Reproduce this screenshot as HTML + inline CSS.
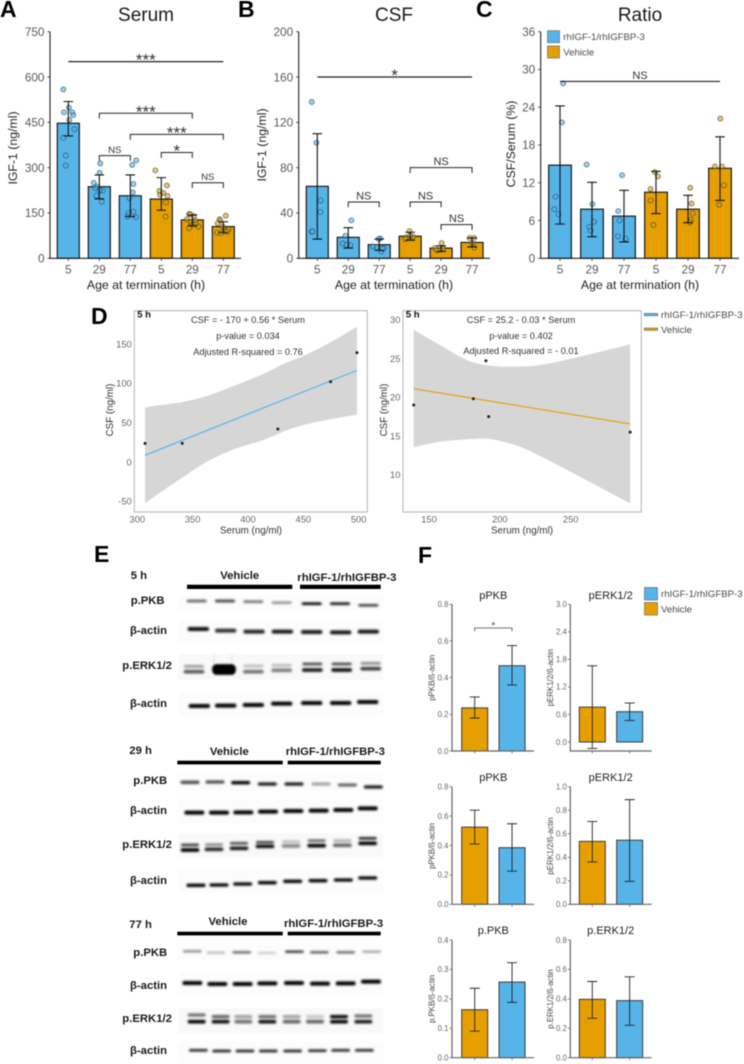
<!DOCTYPE html>
<html lang="en">
<head>
<meta charset="utf-8">
<title>IGF-1 figure</title>
<style>
html,body{margin:0;padding:0;background:#fff;}
#figure{display:block;width:744px;height:1064px;font-family:"Liberation Sans",sans-serif;filter:blur(.4px);}
.letter{font-size:23px;font-weight:700;fill:#000;}
.title{font-size:19px;fill:#1a1a1a;text-anchor:middle;}
.axt{font-size:12.3px;fill:#222;text-anchor:middle;}
.leg{font-size:9.6px;fill:#4a4a4a;}
.eq{font-size:9.2px;fill:#333;text-anchor:middle;}
.dax{font-size:9.8px;fill:#333;text-anchor:middle;}
.blot{font-size:11.3px;font-weight:700;fill:#1a1a1a;}
.ftitle{font-size:11px;fill:#222;text-anchor:middle;}
.fy{font-size:7.8px;fill:#444;text-anchor:middle;}
</style>
</head>
<body>
<svg id="figure" xmlns="http://www.w3.org/2000/svg" width="744" height="1064" viewBox="0 0 744 1064">
<defs><filter id="bandBlur" x="-20%" y="-150%" width="140%" height="400%"><feGaussianBlur stdDeviation="1"/></filter></defs>
<rect x="0" y="0" width="744" height="1064" fill="#fff"/>

<text class="letter" x="0" y="17">A</text>
<text class="letter" x="238" y="17">B</text>
<text class="letter" x="476" y="17">C</text>
<text class="letter" x="91" y="324">D</text>
<text class="letter" x="94" y="562">E</text>
<text class="letter" x="418" y="563">F</text>

<text class="title" x="146" y="21">Serum</text>
<text class="title" x="394" y="21">CSF</text>
<text class="title" x="640" y="21">Ratio</text>
<text class="axt" x="146" y="289">Age at termination (h)</text>
<text class="axt" x="394" y="289">Age at termination (h)</text>
<text class="axt" x="640" y="289">Age at termination (h)</text>
<text class="axt" transform="translate(17 148) rotate(-90)">IGF-1 (ng/ml)</text>
<text class="axt" transform="translate(266 145) rotate(-90)">IGF-1 (ng/ml)</text>
<text class="axt" transform="translate(515 144) rotate(-90)">CSF/Serum (%)</text>

<g>
<rect x="547.5" y="30.7" width="12" height="12" fill="#56B4E9" stroke="#777" stroke-width=".8"/>
<rect x="547.5" y="46" width="12" height="12" fill="#E69F00" stroke="#777" stroke-width=".8"/>
<text class="leg" x="563.3" y="40">rhIGF-1/rhIGFBP-3</text>
<text class="leg" x="563.3" y="55.5">Vehicle</text>
</g>

<text class="eq" x="248" y="323">CSF = - 170 + 0.56 * Serum</text>
<text class="eq" x="248" y="339">p-value = 0.034</text>
<text class="eq" x="248" y="355">Adjusted R-squared = 0.76</text>
<text class="dax" x="251" y="533.5">Serum (ng/ml)</text>
<text class="dax" transform="translate(113 410) rotate(-90)">CSF (ng/ml)</text>

<text class="eq" x="521" y="323">CSF = 25.2 - 0.03 * Serum</text>
<text class="eq" x="521" y="339">p-value = 0.402</text>
<text class="eq" x="521" y="354">Adjusted R-squared = - 0.01</text>
<text class="dax" x="522" y="533.5">Serum (ng/ml)</text>
<text class="dax" transform="translate(387 410) rotate(-90)">CSF (ng/ml)</text>

<g>
<rect x="644.3" y="313.4" width="13.4" height="2.4" fill="#56B4E9" stroke="#555" stroke-width=".5"/>
<rect x="644.3" y="328" width="13.4" height="2.4" fill="#E69F00" stroke="#555" stroke-width=".5"/>
<text class="leg" x="661" y="318">rhIGF-1/rhIGFBP-3</text>
<text class="leg" x="661" y="333">Vehicle</text>
</g>

<g id="blotLabels">
<text class="blot" x="130.7" y="579">5 h</text>
<text class="blot" x="239.7" y="579" text-anchor="middle">Vehicle</text>
<text class="blot" x="297.3" y="581">rhIGF-1/rhIGFBP-3</text>
<text class="blot" x="130.7" y="604">p.PKB</text>
<text class="blot" x="130" y="634">β-actin</text>
<text class="blot" x="122.3" y="669">p.ERK1/2</text>
<text class="blot" x="130" y="707">β-actin</text>

<text class="blot" x="129.3" y="754">29 h</text>
<text class="blot" x="229.3" y="755" text-anchor="middle">Vehicle</text>
<text class="blot" x="285.7" y="755">rhIGF-1/rhIGFBP-3</text>
<text class="blot" x="133.3" y="784">p.PKB</text>
<text class="blot" x="130" y="814">β-actin</text>
<text class="blot" x="122.3" y="848">p.ERK1/2</text>
<text class="blot" x="130" y="884">β-actin</text>

<text class="blot" x="129.3" y="928">77 h</text>
<text class="blot" x="228" y="925" text-anchor="middle">Vehicle</text>
<text class="blot" x="284" y="927">rhIGF-1/rhIGFBP-3</text>
<text class="blot" x="133.3" y="956">p.PKB</text>
<text class="blot" x="130" y="989">β-actin</text>
<text class="blot" x="122.3" y="1022">p.ERK1/2</text>
<text class="blot" x="130" y="1054">β-actin</text>
</g>

<text class="ftitle" x="493.3" y="599">pPKB</text>
<text class="ftitle" x="610.7" y="599">pERK1/2</text>
<text class="ftitle" x="493.3" y="781">pPKB</text>
<text class="ftitle" x="610.7" y="781">pERK1/2</text>
<text class="ftitle" x="493.3" y="934">p.PKB</text>
<text class="ftitle" x="610.7" y="934">p.ERK1/2</text>
<text class="fy" transform="translate(434.5 677.7) rotate(-90)">pPKB/ß-actin</text>
<text class="fy" transform="translate(553 677.7) rotate(-90)">pERK1/2/ß-actin</text>
<text class="fy" transform="translate(434.5 846) rotate(-90)">pPKB/ß-actin</text>
<text class="fy" transform="translate(553 846) rotate(-90)">pERK1/2/ß-actin</text>
<text class="fy" transform="translate(434.5 999) rotate(-90)">p.PKB/ß-actin</text>
<text class="fy" transform="translate(553 999) rotate(-90)">p.ERK1/2/ß-actin</text>

<g>
<rect x="644.5" y="587.5" width="13" height="12.5" fill="#56B4E9" stroke="#777" stroke-width=".8"/>
<rect x="644.5" y="602.5" width="13" height="12.5" fill="#E69F00" stroke="#777" stroke-width=".8"/>
<text class="leg" x="661" y="597">rhIGF-1/rhIGFBP-3</text>
<text class="leg" x="661" y="612.5">Vehicle</text>
</g>
</svg>

<script>
// ---------- Panel A: serum ----------
const ageLabels = ['5', '29', '77', '5', '29', '77'];
const groupTreatment = ['drug', 'drug', 'drug', 'vehicle', 'vehicle', 'vehicle'];
const serumTicks = [0, 150, 300, 450, 600, 750];
const serumMeans = [447, 237, 207, 196, 127, 105];
const serumLow = [405, 197, 138, 159, 108, 85];
const serumHigh = [519, 276, 276, 267, 143, 121];
const serumPoints = [
  [559, 483, 499, 483, 474, 458, 427, 399, 340, 307],
  [314, 283, 250, 237, 232, 224, 207, 187, 225],
  [324, 309, 246, 218, 199, 154, 149, 136, 138],
  [291, 241, 223, 217, 210, 206, 185, 138],
  [147, 146, 140, 130, 125, 120, 113, 110, 105, 100],
  [141, 129, 125, 116, 105, 96, 90, 85, 83, 88]
];
const serumJitter = [
  [-.16, -.14, .02, .13, .16, .03, .2, -.16, -.08, -.08],
  [.03, .01, -.18, -.06, -.13, .12, -.09, .08, .02],
  [.19, .06, .1, .08, -.03, .1, -.06, .18, -.09],
  [-.19, .18, -.06, .06, -.04, .2, .15, .14],
  [-.1, -.07, .05, -.17, .1, -.05, .12, -.02, .2, -.1],
  [.08, -.12, -.1, -.18, -.02, .17, .05, -.2, -.08, .12]
];
const serumSigFrom = [0, 1, 2, 1, 3, 4];
const serumSigTo = [5, 4, 5, 2, 4, 5];
const serumSigValue = [651, 480, 410, 340, 350, 250];
const serumSigLabel = ['***', '***', '***', 'NS', '*', 'NS'];

// ---------- Panel B: CSF ----------
const csfTicks = [0, 40, 80, 120, 160, 200];
const csfMeans = [63.5, 18.5, 12, 19.5, 9, 14];
const csfLow = [17, 9, 7, 16, 6, 10];
const csfHigh = [110, 27, 17, 23, 11, 18];
const csfPoints = [
  [138, 102, 51, 41, 23.5, 23.8],
  [33.5, 20, 13, 11.5, 12],
  [17.5, 17, 10, 9, 6, 10.5, 8.5],
  [24, 19, 18.5, 20, 17],
  [13.5, 9, 7.5, 7, 8.5],
  [18, 18, 13, 9.5]
];
const csfJitter = [
  [-.18, -.03, .11, .1, -.18, -.16],
  [.1, -.09, -.18, .07, -.05],
  [.03, -.02, -.09, .15, .07, -.2, .1],
  [-.02, .1, -.13, 0, -.16],
  [.02, -.2, -.03, -.14, .07],
  [-.08, .07, 0, .07]
];
const csfSigFrom = [0, 3, 1, 3, 4];
const csfSigTo = [5, 5, 2, 4, 5];
const csfSigValue = [160, 80, 49.7, 49.7, 29.7];
const csfSigLabel = ['*', 'NS', 'NS', 'NS', 'NS'];

// ---------- Panel C: ratio ----------
const ratioTicks = [0, 6, 12, 18, 24, 30, 36];
const ratioMeans = [14.8, 7.8, 6.7, 10.5, 7.8, 14.3];
const ratioLow = [5.45, 3.44, 2.6, 7.1, 5.66, 9.2];
const ratioHigh = [24.2, 12.07, 10.8, 13.8, 10, 19.3];
const ratioPoints = [
  [27.8, 21.6, 9.8, 7.8, 7],
  [14.9, 8.6, 5.8, 5, 4.4],
  [13.2, 7.5, 6, 3.5, 3.1],
  [13.7, 13, 11, 9.2, 5.3],
  [11.2, 8.7, 7.1, 6.1, 5.7],
  [22.2, 14.6, 14.6, 11.6, 8.5]
];
const ratioJitter = [
  [.1, .06, -.14, -.18, -.05],
  [-.17, .01, .06, -.08, -.04],
  [-.06, -.18, -.14, -.19, .05],
  [-.03, .06, -.17, -.17, -.08],
  [.07, .11, .15, .09, .06],
  [.01, -.16, .06, .12, -.03]
];
const ratioSigFrom = [0];
const ratioSigTo = [5];
const ratioSigValue = [28.1];
const ratioSigLabel = ['NS'];

// ---------- Panel D: regressions ----------
const drugSerum = [307, 340.6, 427, 474.7, 498.5];
const drugCsf = [23.7, 23.7, 42, 102, 139];
const drugFitX = [307, 498.5];
const drugFitY = [8.5, 116.5];
const drugBandX = [307, 324, 341, 363, 387, 414, 432, 450, 474, 498.5];
const drugBandUpper = [69.5, 72.9, 76.3, 83.9, 96.6, 111.9, 124.6, 134.7, 151.7, 172];
const drugBandLower = [-52.5, -35.6, -19.5, .4, 16.1, 28, 38.6, 47, 54.2, 60.2];
const drugXTicks = [300, 350, 400, 450, 500];
const drugYTicks = [-50, 0, 50, 100, 150];

const vehSerum = [139.2, 181.3, 190.2, 192.1, 292];
const vehCsf = [19, 19.8, 24.7, 17.5, 15.5];
const vehFitX = [139.2, 292];
const vehFitY = [21.1, 16.55];
const vehBandX = [139.2, 157.8, 176.6, 193, 214.2, 233, 256.6, 292];
const vehBandUpper = [28.67, 26.73, 24.8, 24.06, 23.94, 24.28, 25.23, 26.82];
const vehBandLower = [13.53, 14.26, 14.56, 14.6, 13.61, 11.98, 9.74, 6.3];
const vehXTicks = [150, 200, 250];
const vehYTicks = [10, 15, 20, 25, 30];

// ---------- Panel F: densitometry ----------
const densTreatment = ['vehicle', 'drug'];
const ppkb5Ticks = [0, .2, .4, .6, .8];
const ppkb5Means = [.235, .465];
const ppkb5Low = [.18, .36];
const ppkb5High = [.295, .575];
const perk5Ticks = [0, .6, 1.2, 1.8, 2.4, 3];
const perk5Means = [.76, .66];
const perk5Low = [-.14, .47];
const perk5High = [1.66, .85];
const ppkb29Ticks = [0, .2, .4, .6, .8];
const ppkb29Means = [.525, .385];
const ppkb29Low = [.41, .225];
const ppkb29High = [.64, .548];
const perk29Ticks = [0, .2, .4, .6, .8, 1];
const perk29Means = [.535, .545];
const perk29Low = [.36, .195];
const perk29High = [.705, .89];
const ppkb77Ticks = [0, .1, .2, .3, .4];
const ppkb77Means = [.163, .257];
const ppkb77Low = [.09, .188];
const ppkb77High = [.236, .323];
const perk77Ticks = [0, .2, .4, .6, .8];
const perk77Means = [.397, .388];
const perk77Low = [.268, .22];
const perk77High = [.518, .55];

const FILL = {drug: '#56B4E9', vehicle: '#E69F00'};
const svg = document.getElementById('figure');
const NS = 'http://www.w3.org/2000/svg';

function mk(tag, attrs, parent) {
  const el = document.createElementNS(NS, tag);
  for (const k in attrs) el.setAttribute(k, attrs[k]);
  (parent || svg).appendChild(el);
  return el;
}

function drawBars(name, L, labels, treatment, ticks, means, low, high, points, jitter, sigFrom, sigTo, sigValue, sigLabel) {
  const g = mk('g', {}, svg);
  
  
  const yS = v => L.bottom - (v - L.dMin) / (L.dMax - L.dMin) * (L.bottom - L.top);
  const xS = i => L.cx0 + i * L.step;
  const axisBottom = L.axisBottom === undefined ? L.bottom : L.axisBottom;

  means.forEach((m, i) => {
    const bar = mk('rect', {x: xS(i) - L.barW / 2, y: yS(m), width: L.barW, height: yS(0) - yS(m), fill: FILL[treatment[i]], stroke: L.barStroke, 'stroke-width': L.barSW}, g);
    
    
  });

  if (points) {
    points.forEach((list, i) => {
      list.forEach((v, j) => {
        const p = mk('circle', {cx: xS(i) + jitter[i][j] * L.step, cy: yS(v), r: 2.5, fill: FILL[treatment[i]], 'fill-opacity': .6, stroke: '#1c3a4e', 'stroke-opacity': .65, 'stroke-width': .8}, g);
        
        
      });
    });
  }

  means.forEach((m, i) => {
    const e = mk('path', {d: 'M' + (xS(i) - L.cap) + ' ' + yS(high[i]) + 'H' + (xS(i) + L.cap) + 'M' + xS(i) + ' ' + yS(high[i]) + 'V' + yS(low[i]) + 'M' + (xS(i) - L.cap) + ' ' + yS(low[i]) + 'H' + (xS(i) + L.cap), fill: 'none', stroke: L.errStroke, 'stroke-width': L.errSW}, g);
    
    
  });

  const axis = mk('path', {d: 'M' + L.left + ' ' + L.top + 'V' + axisBottom + 'H' + L.right, fill: 'none', stroke: L.axisStroke, 'stroke-width': L.axisSW}, g);
  
  

  ticks.forEach(t => {
    const tk = mk('line', {x1: L.left - 2.5, x2: L.left, y1: yS(t), y2: yS(t), stroke: L.axisStroke, 'stroke-width': .8}, g);
    
    
    const tx = mk('text', {x: L.left - L.labelGap, y: yS(t) + L.tickSize * .36, 'text-anchor': 'end', 'font-size': L.tickSize, fill: L.tickFill}, g);
    tx.textContent = L.decimals === undefined ? String(t) : t.toFixed(L.decimals);
    
    
  });

  means.forEach((m, i) => {
    const tk = mk('line', {x1: xS(i), x2: xS(i), y1: axisBottom, y2: axisBottom + 2.5, stroke: L.axisStroke, 'stroke-width': .8}, g);
    
    
    if (labels) {
      const tx = mk('text', {x: xS(i), y: axisBottom + 15, 'text-anchor': 'middle', 'font-size': L.tickSize, fill: L.tickFill}, g);
      tx.textContent = labels[i];
      
      
    }
  });

  if (sigFrom) {
    sigFrom.forEach((f, k) => {
      const y = yS(sigValue[k]);
      const flat = sigTo[k] - f === 5;
      const drop = flat ? 0 : 5.3;
      const x1 = xS(f), x2 = xS(sigTo[k]);
      const br = mk('path', {d: 'M' + x1 + ' ' + (y + drop) + 'V' + y + 'H' + x2 + 'V' + (y + drop), fill: 'none', stroke: '#222', 'stroke-width': flat ? 1.2 : 1}, g);
      
      
      const isNs = sigLabel[k] === 'NS';
      const lb = mk('text', {x: (x1 + x2) / 2, y: isNs ? y - 2.6 : y + 4, 'text-anchor': 'middle', 'font-size': isNs ? L.nsSize : 17, fill: '#333'}, g);
      lb.textContent = sigLabel[k];
      
      
    });
  }
}

const mainStyle = {top: 31.7, bottom: 258.3, dMin: 0, barW: 22, cap: 4.8, barStroke: '#1a1a1a', barSW: 1.2, errStroke: '#111', errSW: 1.1, axisStroke: '#222', axisSW: 1.1, tickSize: 11.8, tickFill: '#5a5a5a', labelGap: 5.5};

drawBars('serum', Object.assign({}, mainStyle, {left: 50, right: 241, dMax: 750, cx0: 68.3, step: 31, nsSize: 9.6}),
  ageLabels, groupTreatment, serumTicks, serumMeans, serumLow, serumHigh, serumPoints, serumJitter, serumSigFrom, serumSigTo, serumSigValue, serumSigLabel);
drawBars('csf', Object.assign({}, mainStyle, {left: 298.7, right: 490, dMax: 200, cx0: 317.3, step: 30.95, nsSize: 11}),
  ageLabels, groupTreatment, csfTicks, csfMeans, csfLow, csfHigh, csfPoints, csfJitter, csfSigFrom, csfSigTo, csfSigValue, csfSigLabel);
drawBars('ratio', Object.assign({}, mainStyle, {left: 540.7, right: 739, dMax: 36, cx0: 560, step: 32, barW: 22.7, nsSize: 11, labelGap: 5.5}),
  ageLabels, groupTreatment, ratioTicks, ratioMeans, ratioLow, ratioHigh, ratioPoints, ratioJitter, ratioSigFrom, ratioSigTo, ratioSigValue, ratioSigLabel);

const fStyle = {dMin: 0, step: 37.35, barW: 26, cap: 5, barStroke: '#3a3a3a', barSW: 1, errStroke: '#222', errSW: .9, axisStroke: '#666', axisSW: 1.2, tickSize: 7.8, tickFill: '#666', labelGap: 3.5, nsSize: 8};
const colA = {left: 452, right: 534, cx0: 474.7};
const colB = {left: 570.3, right: 651.7, cx0: 592.3};
const row1 = {top: 604.3, bottom: 751};
const row2 = {top: 786.7, bottom: 904.3};
const row3 = {top: 940, bottom: 1057.7};

drawBars('ppkb-5h', Object.assign({}, fStyle, colA, row1, {dMax: .8, decimals: 1}), null, densTreatment, ppkb5Ticks, ppkb5Means, ppkb5Low, ppkb5High);
drawBars('perk-5h', Object.assign({}, fStyle, colB, {top: 604.3, bottom: 742, axisBottom: 751, dMax: 3, decimals: 1}), null, densTreatment, perk5Ticks, perk5Means, perk5Low, perk5High);
drawBars('ppkb-29h', Object.assign({}, fStyle, colA, row2, {dMax: .8, decimals: 1}), null, densTreatment, ppkb29Ticks, ppkb29Means, ppkb29Low, ppkb29High);
drawBars('perk-29h', Object.assign({}, fStyle, colB, row2, {dMax: 1, decimals: 1}), null, densTreatment, perk29Ticks, perk29Means, perk29Low, perk29High);
drawBars('ppkb-77h', Object.assign({}, fStyle, colA, row3, {dMax: .4, decimals: 1}), null, densTreatment, ppkb77Ticks, ppkb77Means, ppkb77Low, ppkb77High);
drawBars('perk-77h', Object.assign({}, fStyle, colB, row3, {dMax: .8, decimals: 1}), null, densTreatment, perk77Ticks, perk77Means, perk77Low, perk77High);

// significance bracket on first pPKB chart
const fBracket = mk('path', {d: 'M474.7 631.3V628H512V631.3', fill: 'none', stroke: '#444', 'stroke-width': .8});


const fStar = mk('text', {x: 493.3, y: 628.5, 'text-anchor': 'middle', 'font-size': 9, fill: '#333'});
fStar.textContent = '*';



// smooth path segments through a list of [x, y] screen points (Catmull-Rom)
function smoothThrough(pts) {
  let d = '';
  for (let i = 0; i < pts.length - 1; i++) {
    const p0 = pts[Math.max(0, i - 1)], p1 = pts[i], p2 = pts[i + 1], p3 = pts[Math.min(pts.length - 1, i + 2)];
    d += 'C' + (p1[0] + (p2[0] - p0[0]) / 6) + ' ' + (p1[1] + (p2[1] - p0[1]) / 6) + ' ' + (p2[0] - (p3[0] - p1[0]) / 6) + ' ' + (p2[1] - (p3[1] - p1[1]) / 6) + ' ' + p2[0] + ' ' + p2[1];
  }
  return d;
}

function drawRegression(name, B, color, xs, ys, fitX, fitY, bandX, bandU, bandL, xTicks, yTicks) {
  const g = mk('g', {}, svg);
  
  
  const xS = v => B.x0 + (v - B.xv0) * B.xk;
  const yS = v => B.y0 - (v - B.yv0) * B.yk;
  const frame = mk('rect', {x: B.left, y: B.top, width: B.right - B.left, height: B.bottom - B.top, fill: '#fff', stroke: '#b3b3b3', 'stroke-width': 1}, g);
  
  
  const upperPts = bandX.map((x, i) => [xS(x), yS(bandU[i])]);
  const lowerPts = bandX.map((x, i) => [xS(x), yS(bandL[i])]).reverse();
  const d = 'M' + upperPts[0][0] + ' ' + upperPts[0][1] + smoothThrough(upperPts) + 'L' + lowerPts[0][0] + ' ' + lowerPts[0][1] + smoothThrough(lowerPts) + 'Z';
  const band = mk('path', {d: d, fill: '#d6d6d6'}, g);
  
  
  const fit = mk('line', {x1: xS(fitX[0]), y1: yS(fitY[0]), x2: xS(fitX[1]), y2: yS(fitY[1]), stroke: color, 'stroke-width': 1.1}, g);
  
  
  xs.forEach((x, i) => {
    const p = mk('circle', {cx: xS(x), cy: yS(ys[i]), r: 1.5, fill: '#222'}, g);
    
    
  });
  xTicks.forEach(t => {
    const tx = mk('text', {x: xS(t), y: 522.5, 'text-anchor': 'middle', 'font-size': 9.3, fill: '#666'}, g);
    tx.textContent = String(t);
    
    
  });
  yTicks.forEach(t => {
    const tx = mk('text', {x: B.left - 2.6, y: yS(t) + 3.3, 'text-anchor': 'end', 'font-size': 9.3, fill: '#666'}, g);
    tx.textContent = String(t);
    
    
  });
  const h5 = mk('text', {x: B.left + 2.8, y: 317.5, 'font-size': 9.6, 'font-weight': 700, fill: '#111'}, g);
  h5.textContent = '5 h';
  
  
}

drawRegression('treatment', {left: 134.3, right: 367.3, top: 310.7, bottom: 512, x0: 137.3, xv0: 300, xk: 1.1067, y0: 462, yv0: 0, yk: .7867}, '#56B4E9',
  drugSerum, drugCsf, drugFitX, drugFitY, drugBandX, drugBandUpper, drugBandLower, drugXTicks, drugYTicks);
drawRegression('vehicle', {left: 403, right: 641.3, top: 310.7, bottom: 512, x0: 429, xv0: 150, xk: 1.4167, y0: 319.7, yv0: 30, yk: 7.75}, '#E69F00',
  vehSerum, vehCsf, vehFitX, vehFitY, vehBandX, vehBandUpper, vehBandLower, vehXTicks, vehYTicks);

// move equations, regression titles above the frames
svg.querySelectorAll('.eq').forEach(t => svg.appendChild(t));

// ---------- Panel E: western blots (lane densities) ----------
const blotSections = [
  {ox: 90, oy: 550, rows: [
    {bg: [265, 135, 880, 180], x: [320, 405, 490, 575, 665, 750, 835], y: [153, 153, 155, 158, 161, 161, 166], d: [.6, .75, .55, .42, 1, .92, .75], w: 60, t: 8},
    {bg: [265, 210, 880, 280], x: [325, 407, 492, 577, 665, 752, 835], y: [237, 242, 245, 245, 246, 247, 245], d: [.95, .8, .85, .9, .9, .9, .9], w: 64, t: 12},
    {bg: [265, 312, 880, 390], x: [312, 402, 490, 575, 667, 755, 842], y: [349, 350, 348, 346, 342, 342, 340], d: [.4, 1, .25, .25, .7, .7, .45], w: 60, t: 8},
    {bg: [265, 312, 880, 390], x: [312, 402, 490, 575, 667, 755, 842], y: [365, 367, 365, 361, 360, 360, 356], d: [.65, 1, .55, .5, .9, .95, .75], w: 62, t: 11},
    {x: [402], y: [358], d: [1], w: 72, t: 30},
    {x: [372, 426], y: [330, 330], d: [.18, .18], w: 3, t: 40},
    {bg: [265, 425, 880, 500], x: [328, 407, 490, 575, 665, 752, 833], y: [468, 467, 465, 461, 459, 459, 456], d: [1, 1, 1, 1, 1, 1, 1], w: 64, t: 12}
  ]},
  {ox: 90, oy: 730, rows: [
    {bg: [265, 130, 880, 185], x: [300, 375, 452, 532, 612, 693, 772, 850], y: [157, 156, 158, 162, 162, 162, 165, 171], d: [.7, .7, 1, .9, .9, .35, .6, .9], w: 57, t: 10},
    {bg: [265, 210, 880, 280], x: [313, 387, 460, 534, 610, 686, 760, 833], y: [248, 248, 247, 245, 243, 242, 240, 235], d: [1, 1, 1, 1, 1, 1, 1, 1], w: 60, t: 12},
    {bg: [265, 310, 880, 380], x: [300, 372, 447, 525, 603, 680, 757, 833], y: [345, 344, 340, 337, 335, 332, 332, 325], d: [.75, .45, .7, .75, .25, .6, .3, .85], w: 54, t: 8},
    {bg: [265, 310, 880, 380], x: [300, 372, 447, 525, 603, 680, 757, 833], y: [360, 358, 355, 349, 348, 347, 346, 340], d: [1, .85, .9, .95, .45, 1, .6, 1], w: 56, t: 11},
    {bg: [265, 420, 880, 490], x: [318, 387, 458, 532, 608, 684, 760, 833], y: [466, 465, 462, 458, 454, 452, 450, 444], d: [1, 1, 1, 1, 1, 1, 1, 1], w: 57, t: 10}
  ]},
  {ox: 90, oy: 900, rows: [
    {bg: [262, 135, 880, 180], x: [307, 378, 455, 530, 613, 688, 767, 845], y: [154, 158, 157, 159, 155, 157, 157, 155], d: [.45, .25, .6, .2, .8, .65, .6, .35], w: 56, t: 7},
    {bg: [265, 215, 880, 285], x: [307, 382, 458, 532, 612, 690, 767, 843], y: [249, 252, 252, 250, 249, 251, 250, 245], d: [1, 1, 1, 1, 1, 1, 1, 1], w: 60, t: 12},
    {bg: [265, 325, 880, 400], x: [320, 392, 460, 532, 605, 675, 747, 820], y: [345, 350, 350, 350, 350, 350, 350, 348], d: [.55, .6, .35, .55, .35, .2, 1, .55], w: 54, t: 10},
    {bg: [265, 325, 880, 400], x: [320, 392, 460, 532, 605, 675, 747, 820], y: [365, 365, 365, 365, 365, 365, 365, 365], d: [1, .95, .55, .95, .6, .6, 1, .9], w: 54, t: 11},
    {bg: [265, 425, 880, 490], x: [325, 395, 465, 535, 608, 682, 752, 823], y: [451, 453, 453, 453, 453, 452, 451, 451], d: [.85, .85, .85, .85, .85, .85, .85, .85], w: 56, t: 8}
  ]}
];
const blotHeaders = [
  {vehicle: [187, 292.3], drug: [300, 380.7], y: 584.7, h: 4.3},
  {vehicle: [177.3, 282.7], drug: [287.7, 380.7], y: 760.7, h: 3.7},
  {vehicle: [177.3, 282.7], drug: [287.7, 380.7], y: 931.7, h: 3.7}
];

blotSections.forEach((sec, si) => {
  const g = mk('g', {}, svg);
  
  
  const hd = blotHeaders[si];
  ['vehicle', 'drug'].forEach(k => {
    const bar = mk('rect', {x: hd[k][0], y: hd.y, width: hd[k][1] - hd[k][0], height: hd.h, fill: '#000'}, g);
    
    
  });
  sec.rows.forEach(row => {
    if (row.bg) {
      const bg = mk('rect', {x: sec.ox + row.bg[0] / 3, y: sec.oy + row.bg[1] / 3, width: (row.bg[2] - row.bg[0]) / 3, height: (row.bg[3] - row.bg[1]) / 3, fill: '#000', 'fill-opacity': .01}, g);
      
      
    }
    row.x.forEach((x, i) => {
      const thick = row.t / 3;
      const b = mk('rect', {x: sec.ox + (x - row.w / 2) / 3, y: sec.oy + row.y[i] / 3 - thick / 2, width: row.w / 3, height: thick, rx: thick / 2, fill: '#000', 'fill-opacity': row.d[i], filter: 'url(#bandBlur)'}, g);
      
      
    });
  });
});
svg.appendChild(document.getElementById('blotLabels'));
</script>
</body>
</html>
